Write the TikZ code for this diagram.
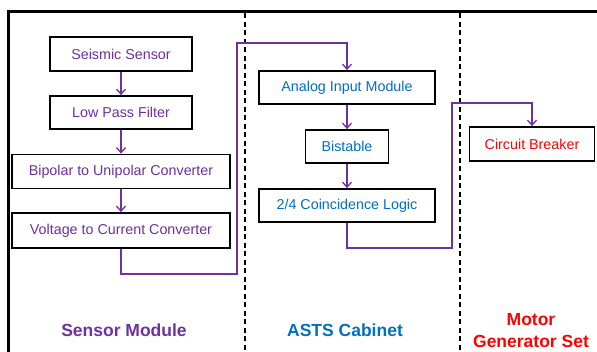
\documentclass[tikz,border=0pt]{standalone}
\usepackage{fontspec}
\setmainfont{Liberation Sans}
\usetikzlibrary{arrows.meta}
\definecolor{smpurple}{HTML}{7030A0}
\definecolor{astsblue}{HTML}{0070C0}
\definecolor{mgred}{HTML}{FF0000}
\begin{document}
\begin{tikzpicture}[x=1pt,y=-1pt,
  blk/.style={draw=black,line width=1.8pt,fill=white,inner sep=0pt,font=\fontsize{14.3}{17}\selectfont},
  conn/.style={draw=smpurple,line width=1.3pt,-{Straight Barb[length=5pt,width=9pt,line width=1.3pt]}},
  divider/.style={draw=black,line width=1.5pt,dash pattern=on 5pt off 3.5pt},
  lbl/.style={font=\fontsize{17.5}{20}\selectfont\bfseries,align=center}]
\useasboundingbox (0,0) rectangle (597,352);
% frame
\draw[line width=3pt] (8,352) -- (8,12) -- (600,12);
\draw[divider] (245,13.5) -- (245,352);
\draw[divider] (460,13.5) -- (460,352);
% sensor module
\node[blk,text=smpurple,minimum width=142pt,minimum height=34pt] (ss) at (121,54) {Seismic Sensor};
\node[blk,text=smpurple,minimum width=142pt,minimum height=33pt] (lpf) at (121,112.5) {Low Pass Filter};
\node[blk,text=smpurple,minimum width=218pt,minimum height=34pt] (bu) at (121,171.5) {Bipolar to Unipolar Converter};
\node[blk,text=smpurple,minimum width=218pt,minimum height=35pt] (vc) at (121,230.5) {Voltage to Current Converter};
% ASTS cabinet
\node[blk,text=astsblue,minimum width=176pt,minimum height=33pt] (aim) at (347,87.5) {Analog Input Module};
\node[blk,text=astsblue,minimum width=83pt,minimum height=33pt] (bis) at (347,146.5) {Bistable};
\node[blk,text=astsblue,minimum width=176pt,minimum height=33pt] (coin) at (347,205.5) {2/4 Coincidence Logic};
% motor generator
\node[blk,text=mgred,minimum width=125pt,minimum height=34pt] (cb) at (532,144) {Circuit Breaker};
% connectors
\draw[conn] (ss) -- (lpf);
\draw[conn] (lpf) -- (bu);
\draw[conn] (bu) -- (vc);
\coordinate (a1) at (121,274);
\coordinate (a2) at (237,274);
\coordinate (a3) at (237,43);
\coordinate (a4) at (347,43);
\draw[conn] (vc.south) -- (a1) -- (a2) -- (a3) -- (a4) -- (aim.north);
\draw[conn] (aim) -- (bis);
\draw[conn] (bis) -- (coin);
\coordinate (b1) at (347,248);
\coordinate (b2) at (452,248);
\coordinate (b3) at (452,103);
\coordinate (b4) at (532,103);
\draw[conn] (coin.south) -- (b1) -- (b2) -- (b3) -- (b4) -- (cb.north);
% section labels
\node[lbl,text=smpurple] (l1) at (124,330) {Sensor Module};
\node[lbl,text=astsblue] (l2) at (345,330) {ASTS Cabinet};
\node[lbl,text=mgred] (l3) at (531,320) {Motor};
\node[lbl,text=mgred] (l4) at (531,341) {Generator Set};
\end{tikzpicture}
\end{document}
